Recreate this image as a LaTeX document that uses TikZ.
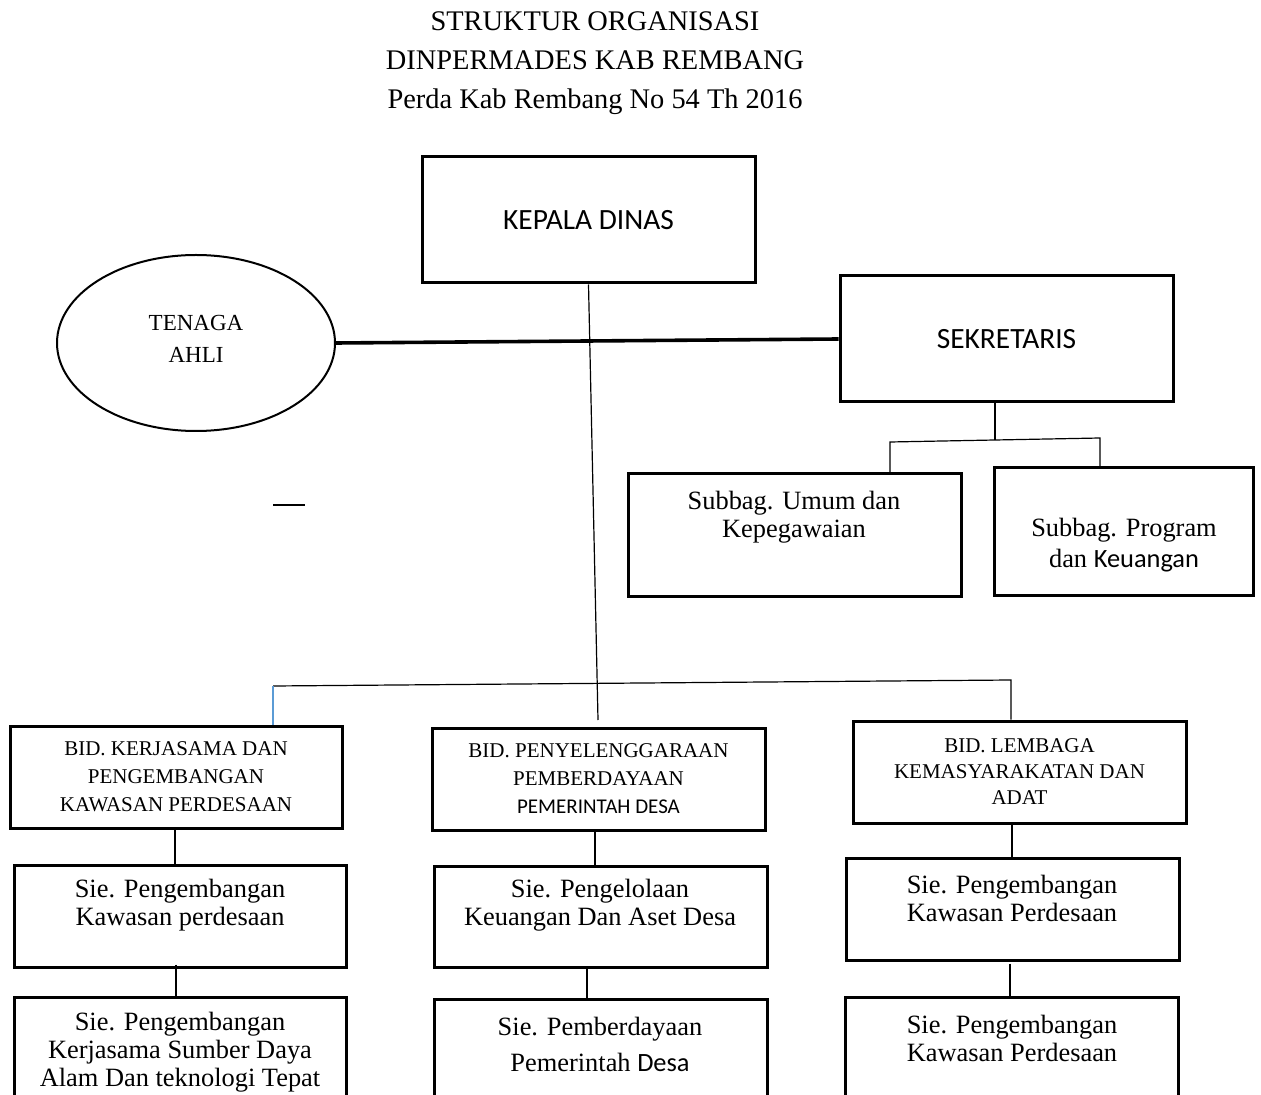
\documentclass[tikz,border=0pt]{standalone}
\usepackage{fontspec}
\setmainfont{Liberation Serif}
\newfontfamily\calibfont{Carlito}
\usetikzlibrary{shapes.geometric, positioning, calc}
\definecolor{dropblue}{RGB}{91,155,213}

\begin{document}
\begin{tikzpicture}[
  x=0.5pt, y=-0.5pt,
  unit/.style={draw, line width=1.5pt, inner sep=0pt, align=center, minimum width=166.5pt},
  link/.style={draw, line width=0.6pt},
  lbl/.style={align=center, font=\fontsize{13.2}{14}\selectfont},
  bidlbl/.style={align=center, font=\fontsize{10.5}{14}\selectfont}
  ]
  \useasboundingbox (0,0) rectangle (1261,1095);
  \clip (0,0) rectangle (1261,1095);

  \node[align=center, font=\fontsize{14.2}{19.5}\selectfont] (judul) at (595,63)
    {STRUKTUR ORGANISASI\\DINPERMADES KAB REMBANG\\Perda Kab Rembang No 54 Th 2016};

  \node[unit, minimum height=63pt, font=\calibfont\fontsize{14.7}{16}\selectfont] (kepala) at (588.5,220) {\raisebox{-3pt}{KEPALA DINAS}};
  \node[unit, minimum height=63pt, font=\calibfont\fontsize{14.7}{16}\selectfont] (sekr) at (1006.5,339) {\raisebox{-1pt}{SEKRETARIS}};
  \node[draw, ellipse, line width=1pt, inner sep=0pt, minimum width=139pt, minimum height=88pt] (tenaga) at (196,343) {};
  \node[align=center, font=\fontsize{11.5}{16}\selectfont] (tenagat) at (196,339) {TENAGA\\AHLI};

  \node[unit, minimum height=61pt] (umum) at (794.5,535) {};
  \node[lbl] (umumt) at (794,517) {Subbag. Umum dan\\Kepegawaian};
  \node[unit, minimum width=129.5pt, minimum height=63.5pt] (prog) at (1123.5,531.5) {};
  \node[lbl, font=\fontsize{13.2}{15.5}\selectfont] (progt) at (1124,545) {Subbag. Program\\dan {\calibfont Keuangan}};

  \node[unit, minimum width=166pt, minimum height=51pt, bidlbl] (bid1) at (176,777)
    {BID. KERJASAMA DAN\\PENGEMBANGAN\\KAWASAN PERDESAAN};
  \node[unit, minimum height=51pt, bidlbl] (bid2) at (598.5,779)
    {BID. PENYELENGGARAAN\\PEMBERDAYAAN\\{\calibfont PEMERINTAH DESA}};
  \node[unit, minimum height=51pt, bidlbl, font=\fontsize{10.5}{13}\selectfont] (bid3) at (1019.5,772)
    {BID. LEMBAGA\\KEMASYARAKATAN DAN\\ADAT};

  \node[unit, minimum width=166pt, minimum height=51pt] (siea) at (180,916) {};
  \node[lbl] (siat) at (180,905) {Sie. Pengembangan\\Kawasan perdesaan};
  \node[unit, minimum height=50.5pt] (sieb) at (600.5,916.5) {};
  \node[lbl] (sibt) at (600,905) {Sie. Pengelolaan\\Keuangan Dan Aset Desa};
  \node[unit, minimum height=51pt] (siec) at (1012.5,909) {};
  \node[lbl] (sict) at (1012,898.5) {Sie. Pengembangan\\Kawasan Perdesaan};

  \node[unit, minimum width=166pt, minimum height=66.5pt] (sied) at (180,1063.5) {};
  \node[lbl] (sidt) at (180,1052) {Sie. Pengembangan\\Kerjasama Sumber Daya\\Alam Dan teknologi Tepat};
  \node[unit, minimum height=65.5pt] (siee) at (600.5,1064.5) {};
  \node[lbl, font=\fontsize{13.2}{18}\selectfont] (siet) at (600,1044) {Sie. Pemberdayaan\\Pemerintah {\calibfont Desa}};
  \node[unit, minimum height=66.5pt] (sief) at (1012,1063.5) {};
  \node[lbl] (sift) at (1012,1038) {Sie. Pengembangan\\Kawasan Perdesaan};

  \coordinate (pusat) at (598,720);
  \coordinate (busL) at (273,686);
  \coordinate (busR) at (1011,680);
  \coordinate (sbusM) at (995,440);
  \coordinate (sbusL) at (890,442);
  \coordinate (sbusR) at (1100,438);
  \coordinate (garisA) at (273,505);
  \coordinate (garisB) at (305,505);

  \draw[line width=1.8pt] (tenaga.east) -- (sekr.west);
  \draw[link] (kepala.south) -- (pusat);
  \draw[link] (busL) -- (busR) -- (bid3.north -| busR);
  \draw[link, dropblue] (busL) -- (bid1.north -| busL);
  \draw[link] (sekr.south -| sbusM) -- (sbusM);
  \draw[link] (umum.north -| sbusL) -- (sbusL) -- (sbusR) -- (prog.north -| sbusR);
  \draw[link] (garisA) -- (garisB);

  \draw[link] ([xshift=-0.5pt]bid1.south) -- ([xshift=-0.5pt]bid1.south |- siea.north);
  \draw[link] ([xshift=-1.75pt]bid2.south) -- ([xshift=-1.75pt]bid2.south |- sieb.north);
  \draw[link] ([xshift=-3.75pt]bid3.south) -- ([xshift=-3.75pt]bid3.south |- siec.north);
  \draw[link] ([xshift=-2pt,yshift=2pt]siea.south) -- ([xshift=-2pt]siea.south |- sied.north);
  \draw[link] ([xshift=-6.75pt,yshift=1pt]sieb.south) -- ([xshift=-6.75pt]sieb.south |- siee.north);
  \draw[link] ([xshift=-1.25pt,yshift=-1pt]siec.south) -- ([xshift=-1.25pt]siec.south |- sief.north);
\end{tikzpicture}
\end{document}
